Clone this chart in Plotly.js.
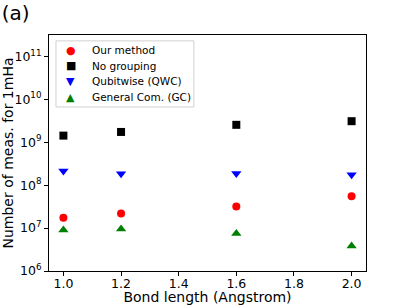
<!DOCTYPE html>
<html><head><meta charset="utf-8">
<script src="https://cdn.plot.ly/plotly-3.0.1.min.js"></script>
<style>html,body{margin:0;padding:0;background:#fff;}#chart{width:407px;height:305px;}</style>
</head><body><div id="chart"></div>
<script>
const bondLengths = [1.0, 1.2, 1.6, 2.0];
const ourMethod = [1.75e7, 2.2e7, 3.2e7, 5.5e7];
const noGrouping = [1.43e9, 1.74e9, 2.55e9, 3.1e9];
const qubitwise = [2.15e8, 1.85e8, 1.87e8, 1.75e8];
const generalCom = [9.0e6, 9.5e6, 7.5e6, 3.8e6];
const seriesNames = ['Our method', 'No grouping', 'Qubitwise (QWC)', 'General Com. (GC)'];
const seriesColors = ['red', 'black', 'blue', 'green'];
const seriesSymbols = ['circle', 'square', 'triangle-down', 'triangle-up'];
const legendGlyphs = ['\u25CF', '\u25A0', '\u25BC', '\u25B2'];
const xTickVals = [1.0, 1.2, 1.4, 1.6, 1.8, 2.0];
const xTickText = ["1.0", "1.2", "1.4", "1.6", "1.8", "2.0"];
const yTickVals = [1e6, 1e7, 1e8, 1e9, 1e10, 1e11];
const yTickText = ["10<sup>6</sup>", "10<sup>7</sup>", "10<sup>8</sup>", "10<sup>9</sup>", "10<sup>10</sup>", "10<sup>11</sup>"];

const font = "DejaVu Sans, sans-serif";
const seriesValues = [ourMethod, noGrouping, qubitwise, generalCom];
const markerSizes = [8, 8, 9, 9];
const data = seriesValues.map((vals, i) => ({
  x: bondLengths, y: vals, name: seriesNames[i], type: 'scatter', mode: 'markers',
  marker: {color: seriesColors[i], symbol: seriesSymbols[i], size: markerSizes[i], line: {width: 0}}
}));

// manual legend (matplotlib-like compact spacing)
const legX0 = 0.022, legX1 = 0.457, legY0 = 0.695, legY1 = 0.975;
const rowY = [0.936, 0.869, 0.803, 0.737];
const annotations = [];
seriesNames.forEach((n, i) => {
  annotations.push({xref: 'paper', yref: 'paper', x: 0.069, y: rowY[i], xanchor: 'center', yanchor: 'middle',
    text: legendGlyphs[i], showarrow: false, font: {family: font, size: 11, color: seriesColors[i]}});
  annotations.push({xref: 'paper', yref: 'paper', x: 0.128, y: rowY[i], xanchor: 'left', yanchor: 'middle',
    text: n, showarrow: false, font: {family: font, size: 10.5, color: '#000'}});
});

const layout = {
  width: 407, height: 305,
  margin: {l: 49, r: 41, t: 35, b: 34},
  paper_bgcolor: '#fff', plot_bgcolor: '#fff',
  font: {family: font, size: 12.5, color: '#000'},
  showlegend: false,
  title: {text: '(a)', x: 0.004, xanchor: 'left', y: 0.98, yanchor: 'top', font: {family: font, size: 20, color: '#000'}},
  xaxis: {range: [0.95, 2.05], tickvals: xTickVals, ticktext: xTickText, ticks: 'outside', ticklen: 4, tickcolor: '#000',
    ticklabelstandoff: -3,
    showline: true, mirror: true, linecolor: '#000', linewidth: 1, showgrid: false, zeroline: false,
    tickfont: {size: 12.5}, title: {text: 'Bond length (Angstrom)', standoff: 0, font: {size: 14}}},
  yaxis: {type: 'log', range: [6, 11.5], tickvals: yTickVals, ticktext: yTickText, ticks: 'outside', ticklen: 4, tickcolor: '#000',
    showline: true, mirror: true, linecolor: '#000', linewidth: 1, showgrid: false, zeroline: false,
    tickfont: {size: 12.5}, title: {text: 'Number of meas. for 1mHa', standoff: 2, font: {size: 14}}},
  shapes: [{type: 'rect', xref: 'paper', yref: 'paper', x0: legX0, x1: legX1, y0: legY0, y1: legY1,
    line: {color: '#d0d0d0', width: 1}, fillcolor: 'rgba(255,255,255,0.8)', layer: 'above'}],
  annotations: annotations
};
Plotly.newPlot('chart', data, layout, {displayModeBar: false, staticPlot: true});
</script></body></html>
